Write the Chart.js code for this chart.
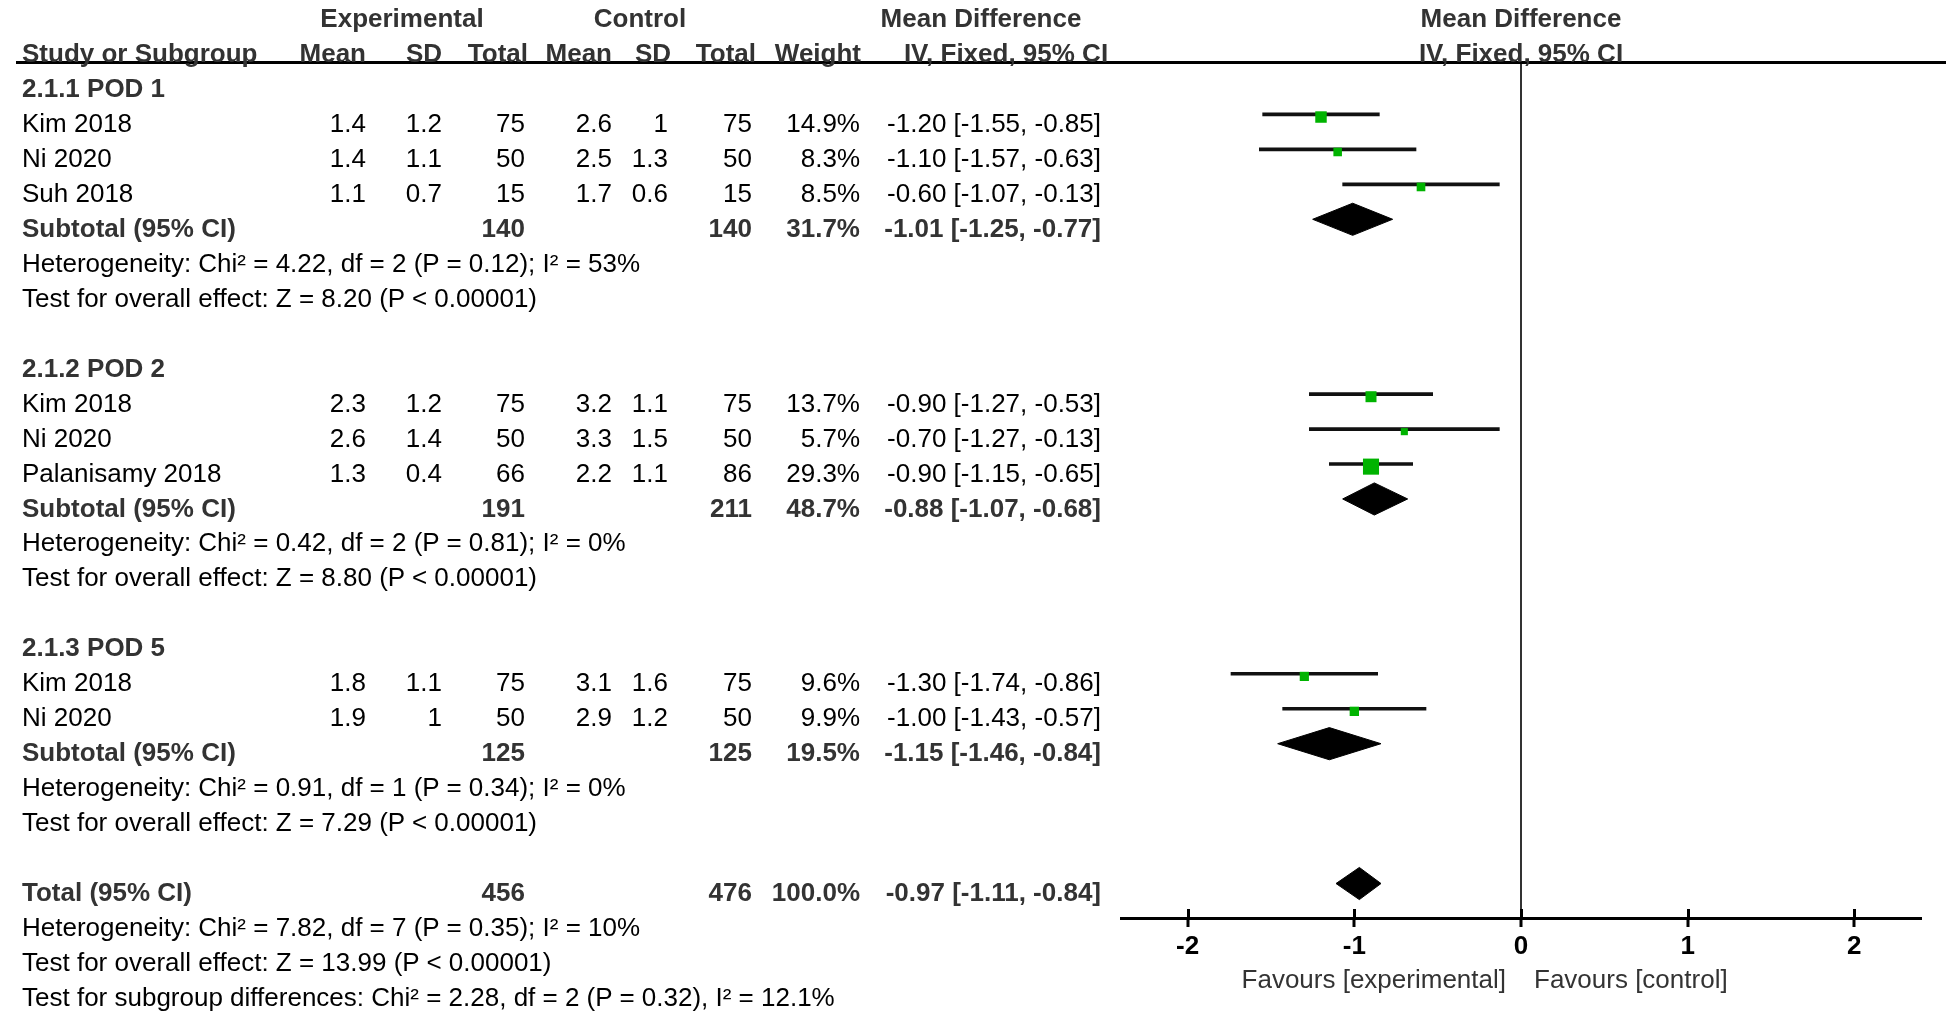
<!DOCTYPE html>
<html lang="en">
<head>
<meta charset="UTF-8">
<title>Forest plot - Mean Difference</title>
<script src="https://cdn.jsdelivr.net/npm/chart.js@4.4.1/dist/chart.umd.min.js"></script>
<style>
  html, body { margin: 0; padding: 0; background: #fff; }
  #wrap {
    position: relative;
    width: 1952px;
    height: 1012px;
    overflow: hidden;
    font-family: "Liberation Sans", Arial, sans-serif;
  }
  #plot { position: absolute; left: 0; top: 0; }
  .t {
    position: absolute;
    font-size: 26px;
    line-height: 30px;
    white-space: nowrap;
    color: #000;
  }
  .b { font-weight: bold; color: #333; }
  .r { transform: translateX(-100%); }
  .c { transform: translateX(-50%); }
  .fav { color: #333; }
  #hline { position: absolute; left: 16px; width: 1930px; top: 61px; height: 3px; background: #000; }
</style>
</head>
<body>
<div id="wrap">
  <canvas id="plot" width="1952" height="1012"></canvas>
  <div id="hline"></div>
</div>

<script>
// ---- data ----
const studyNames = ['Kim 2018', 'Ni 2020', 'Suh 2018', 'Kim 2018', 'Ni 2020', 'Palanisamy 2018', 'Kim 2018', 'Ni 2020'];
const studyRows  = [1, 2, 3, 9, 10, 11, 17, 18];
const expMean = [1.4, 1.4, 1.1, 2.3, 2.6, 1.3, 1.8, 1.9];
const expSD   = [1.2, 1.1, 0.7, 1.2, 1.4, 0.4, 1.1, 1];
const expN    = [75, 50, 15, 75, 50, 66, 75, 50];
const ctlMean = [2.6, 2.5, 1.7, 3.2, 3.3, 2.2, 3.1, 2.9];
const ctlSD   = [1, 1.3, 0.6, 1.1, 1.5, 1.1, 1.6, 1.2];
const ctlN    = [75, 50, 15, 75, 50, 86, 75, 50];
const weights = [14.9, 8.3, 8.5, 13.7, 5.7, 29.3, 9.6, 9.9];
const md      = [-1.20, -1.10, -0.60, -0.90, -0.70, -0.90, -1.30, -1.00];
const mdLo    = [-1.55, -1.57, -1.07, -1.27, -1.27, -1.15, -1.74, -1.43];
const mdHi    = [-0.85, -0.63, -0.13, -0.53, -0.13, -0.65, -0.86, -0.57];

const groupNames = ['2.1.1 POD 1', '2.1.2 POD 2', '2.1.3 POD 5'];
const groupRows  = [0, 8, 16];
const subRows    = [4, 12, 19];
const subExpN    = [140, 191, 125];
const subCtlN    = [140, 211, 125];
const subWeight  = [31.7, 48.7, 19.5];
const subMd      = [-1.01, -0.88, -1.15];
const subLo      = [-1.25, -1.07, -1.46];
const subHi      = [-0.77, -0.68, -0.84];
const hetRows    = [5, 13, 20];
const hetText    = [
  'Heterogeneity: Chi² = 4.22, df = 2 (P = 0.12); I² = 53%',
  'Heterogeneity: Chi² = 0.42, df = 2 (P = 0.81); I² = 0%',
  'Heterogeneity: Chi² = 0.91, df = 1 (P = 0.34); I² = 0%'
];
const effectRows = [6, 14, 21];
const effectText = [
  'Test for overall effect: Z = 8.20 (P < 0.00001)',
  'Test for overall effect: Z = 8.80 (P < 0.00001)',
  'Test for overall effect: Z = 7.29 (P < 0.00001)'
];

const totalRow    = 23;
const totalExpN   = 456;
const totalCtlN   = 476;
const totalWeight = 100.0;
const totalMd     = -0.97;
const totalLo     = -1.11;
const totalHi     = -0.84;
const footRows = [24, 25, 26];
const footText = [
  'Heterogeneity: Chi² = 7.82, df = 7 (P = 0.35); I² = 10%',
  'Test for overall effect: Z = 13.99 (P < 0.00001)',
  'Test for subgroup differences: Chi² = 2.28, df = 2 (P = 0.32), I² = 12.1%'
];

const xTicks = [-2, -1, 0, 1, 2];

// ---- layout ----
const FONT = '"Liberation Sans", Arial, sans-serif';
const lineShift = 0.245;   // CI lines / diamonds sit a bit above the text row
const boxShift = 0.17;
const diamondHalf = 0.46;  // in rows
const col = { name: 22, eMean: 366, eSD: 442, eN: 525, cMean: 612, cSD: 668, cN: 752, w: 860, ci: 1101 };

const ciData = studyRows.map((r, i) => ({ y: r - lineShift, x: [mdLo[i], mdHi[i]] }));
const boxData = studyRows.map((r, i) => ({ x: md[i], y: r - boxShift }));

const dRows = subRows.concat([totalRow]);
const dMd = subMd.concat([totalMd]);
const dLo = subLo.concat([totalLo]);
const dHi = subHi.concat([totalHi]);
const diamondSets = dRows.map((r, i) => {
  const y = r - lineShift;
  return {
    type: 'line',
    data: [
      { x: dLo[i], y: y },
      { x: dMd[i], y: y - diamondHalf },
      { x: dHi[i], y: y },
      { x: dMd[i], y: y + diamondHalf },
      { x: dLo[i], y: y }
    ],
    borderColor: '#000',
    backgroundColor: '#000',
    borderWidth: 1,
    fill: 'shape',
    pointRadius: 0,
    tension: 0,
    order: 1
  };
});

// the upper half of each tick mark (Chart.js only draws below the axis)
const crossTicks = {
  id: 'crossTicks',
  afterDraw(chart) {
    const sx = chart.scales.x;
    const ctx = chart.ctx;
    const bottom = chart.chartArea.bottom;
    ctx.save();
    ctx.strokeStyle = '#000';
    ctx.lineWidth = 3;
    sx.ticks.forEach(t => {
      const px = Math.round(sx.getPixelForValue(t.value)) + 0.5;
      ctx.beginPath();
      ctx.moveTo(px, bottom - 9);
      ctx.lineTo(px, bottom);
      ctx.stroke();
    });
    ctx.restore();
  }
};

const chart = new Chart(document.getElementById('plot'), {
  type: 'scatter',
  data: {
    datasets: [
      {
        type: 'scatter',
        data: boxData,
        pointStyle: 'rect',
        pointRadius: weights.map(w => 2.1 * Math.sqrt(w)),
        pointHoverRadius: weights.map(w => 2.1 * Math.sqrt(w)),
        backgroundColor: '#00b300',
        borderWidth: 0,
        order: 0
      },
      ...diamondSets,
      {
        type: 'bar',
        indexAxis: 'y',
        data: ciData,
        backgroundColor: '#111',
        barThickness: 3,
        borderWidth: 0,
        borderSkipped: false,
        order: 2
      }
    ]
  },
  options: {
    responsive: false,
    devicePixelRatio: 1,
    animation: false,
    events: [],
    layout: { padding: { left: 1121, right: 31, top: 62, bottom: 54 } },
    plugins: { legend: { display: false }, tooltip: { enabled: false } },
    scales: {
      x: {
        type: 'linear',
        min: -2.4,
        max: 2.4,
        offset: false,
        afterBuildTicks: s => { s.ticks = xTicks.map(v => ({ value: v })); },
        afterFit: s => { s.height = 40; },
        ticks: { color: '#000', padding: 4, font: { family: FONT, size: 26, weight: 'bold' } },
        grid: {
          color: c => (c.tick && c.tick.value === 0 ? '#333' : 'rgba(0,0,0,0)'),
          lineWidth: 2,
          tickColor: '#000',
          tickWidth: 3,
          tickLength: 9
        },
        border: { display: true, color: '#000', width: 3 }
      },
      y: {
        type: 'linear',
        display: false,
        reverse: true,
        min: -0.744,
        max: 23.741,
        offset: false
      }
    }
  },
  plugins: [crossTicks]
});

// ---- table text, placed on the same row scale ----
const wrap = document.getElementById('wrap');
const ys = chart.scales.y;
const xs = chart.scales.x;
const zeroX = xs.getPixelForValue(0);

function put(text, x, row, align, bold, extra) {
  const d = document.createElement('div');
  d.className = 't' + (align === 'r' ? ' r' : align === 'c' ? ' c' : '') + (bold ? ' b' : '') + (extra ? ' ' + extra : '');
  d.textContent = text;
  d.style.left = x + 'px';
  d.style.top = (ys.getPixelForValue(row) - 15) + 'px';
  wrap.appendChild(d);
}
const f2 = v => v.toFixed(2);
const ciStr = (m, lo, hi) => f2(m) + ' [' + f2(lo) + ', ' + f2(hi) + ']';

// headers
put('Experimental', 402, -2, 'c', true);
put('Control', 640, -2, 'c', true);
put('Mean Difference', 981, -2, 'c', true);
put('Mean Difference', zeroX, -2, 'c', true);
put('Study or Subgroup', col.name, -1, 'l', true);
put('Mean', 366, -1, 'r', true);
put('SD', 442, -1, 'r', true);
put('Total', 528, -1, 'r', true);
put('Mean', 612, -1, 'r', true);
put('SD', 671, -1, 'r', true);
put('Total', 756, -1, 'r', true);
put('Weight', 861, -1, 'r', true);
put('IV, Fixed, 95% CI', 1006, -1, 'c', true);
put('IV, Fixed, 95% CI', zeroX, -1, 'c', true);

groupNames.forEach((g, i) => put(g, col.name, groupRows[i], 'l', true));

studyRows.forEach((r, i) => {
  put(studyNames[i], col.name, r, 'l', false);
  put(String(expMean[i]), col.eMean, r, 'r', false);
  put(String(expSD[i]), col.eSD, r, 'r', false);
  put(String(expN[i]), col.eN, r, 'r', false);
  put(String(ctlMean[i]), col.cMean, r, 'r', false);
  put(String(ctlSD[i]), col.cSD, r, 'r', false);
  put(String(ctlN[i]), col.cN, r, 'r', false);
  put(weights[i].toFixed(1) + '%', col.w, r, 'r', false);
  put(ciStr(md[i], mdLo[i], mdHi[i]), col.ci, r, 'r', false);
});

subRows.forEach((r, i) => {
  put('Subtotal (95% CI)', col.name, r, 'l', true);
  put(String(subExpN[i]), col.eN, r, 'r', true);
  put(String(subCtlN[i]), col.cN, r, 'r', true);
  put(subWeight[i].toFixed(1) + '%', col.w, r, 'r', true);
  put(ciStr(subMd[i], subLo[i], subHi[i]), col.ci, r, 'r', true);
  put(hetText[i], col.name, hetRows[i], 'l', false);
  put(effectText[i], col.name, effectRows[i], 'l', false);
});

put('Total (95% CI)', col.name, totalRow, 'l', true);
put(String(totalExpN), col.eN, totalRow, 'r', true);
put(String(totalCtlN), col.cN, totalRow, 'r', true);
put(totalWeight.toFixed(1) + '%', col.w, totalRow, 'r', true);
put(ciStr(totalMd, totalLo, totalHi), col.ci, totalRow, 'r', true);
footRows.forEach((r, i) => put(footText[i], col.name, r, 'l', false));

// favours labels under the axis
const favRow = 25.5;
put('Favours [experimental]', zeroX - 15, favRow, 'r', false, 'fav');
put('Favours [control]', zeroX + 13, favRow, 'l', false, 'fav');
</script>
</body>
</html>
